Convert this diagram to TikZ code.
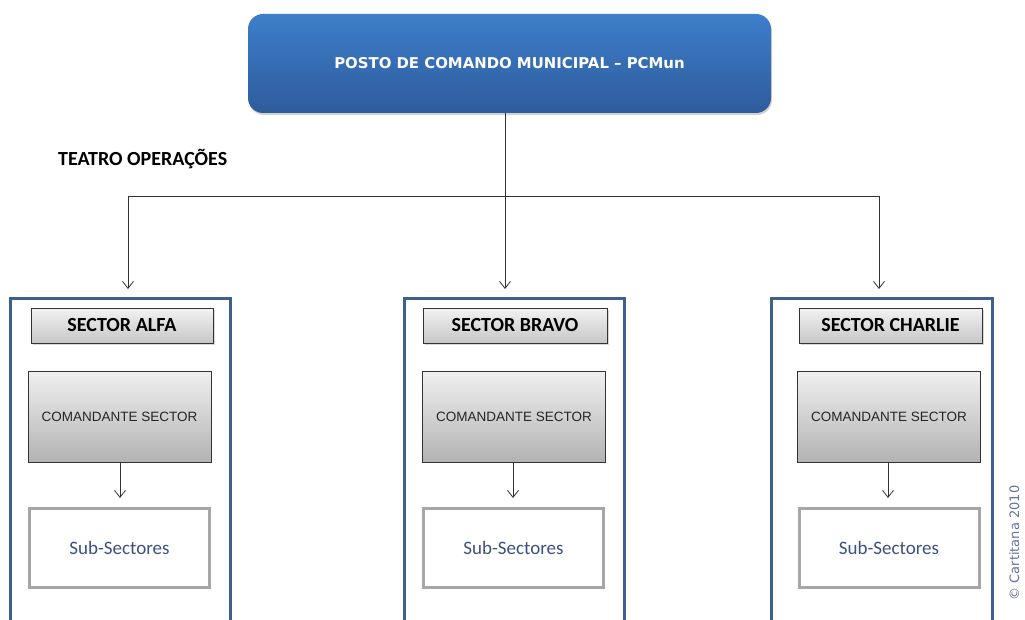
\documentclass[tikz,border=0pt]{standalone}
\usepackage{fontspec}
\setmainfont{Carlito}
\newfontfamily\verd{DejaVu Sans}
\newfontfamily\arialf{Liberation Sans}
\usetikzlibrary{arrows.meta,shadows,calc}
\definecolor{topA}{RGB}{61,126,203}
\definecolor{topB}{RGB}{46,92,156}
\definecolor{conblue}{RGB}{63,96,140}
\definecolor{subgray}{RGB}{166,166,166}
\definecolor{subtext}{RGB}{60,80,130}
\definecolor{linegray}{RGB}{50,50,50}
\tikzset{
  arr/.style={draw=linegray, line width=0.8pt, -{Straight Barb[length=7pt,width=11pt]}},
  pcbox/.style={rounded corners=15pt, top color=topA, bottom color=topB, draw=none,
    minimum width=523pt, minimum height=99pt, inner sep=0pt,
    drop shadow={shadow xshift=1pt, shadow yshift=-2pt, opacity=0.35},
    font=\verd\bfseries\fontsize{14.9}{17}\selectfont, text=white},
  container/.style={draw=conblue, line width=3pt, minimum height=360pt, anchor=north, inner sep=0pt},
  titlebox/.style={draw=black!80, line width=0.8pt, top color=black!5, bottom color=black!22,
    minimum height=35pt, inner sep=0pt,
    drop shadow={shadow xshift=1.5pt, shadow yshift=-2pt, opacity=0.3},
    font=\bfseries\fontsize{20}{22}\selectfont},
  cmdbox/.style={draw=black!80, line width=0.8pt, top color=black!6, bottom color=black!30,
    minimum width=183pt, minimum height=91pt, inner sep=0pt,
    font=\arialf\fontsize{13.5}{15}\selectfont, text=black!85},
  subbox/.style={draw=subgray, line width=3pt, fill=white,
    minimum width=180pt, minimum height=79pt, inner sep=0pt,
    font=\fontsize{19}{21}\selectfont, text=subtext},
}
\begin{document}
\begin{tikzpicture}[x=1pt,y=-1pt]
\useasboundingbox (0,0) rectangle (1025,620);
\clip (0,0) rectangle (1025,620);
\fill[white] (0,0) rectangle (1025,620);

\node[pcbox] (pc) at (509.5,63.5) {POSTO DE COMANDO MUNICIPAL – PCMun};
\node[font=\bfseries\fontsize{20}{22}\selectfont, anchor=west, inner sep=0pt] (teatro) at (58,159) {TEATRO OPERAÇÕES};

\coordinate (hub) at (505,196);
\coordinate (a1) at (128,289);
\coordinate (a2) at (505,289);
\coordinate (a3) at (879,289);
\draw[arr] (pc.south -| hub) -- (a2);
\draw[arr] (hub) -| (a1);
\draw[arr] (hub) -| (a3);

% containers
\node[container, minimum width=220pt] (conA) at (120,297) {};
\node[container, minimum width=220pt] (conB) at (514,297) {};
\node[container, minimum width=221pt] (conC) at (881.5,297) {};

% titles
\node[titlebox, minimum width=182pt] (tA) at (122,325.5) {SECTOR ALFA};
\node[titlebox, minimum width=184pt] (tB) at (515,325.5) {SECTOR BRAVO};
\node[titlebox, minimum width=183pt] (tC) at (890.5,325.5) {SECTOR CHARLIE};

% commanders
\node[cmdbox] (cA) at (119.5,416.5) {COMANDANTE SECTOR};
\node[cmdbox] (cB) at (514,416.5) {COMANDANTE SECTOR};
\node[cmdbox] (cC) at (889,416.5) {COMANDANTE SECTOR};

% sub-sectors
\node[subbox] (sA) at (119.5,548) {Sub-Sectores};
\node[subbox] (sB) at (513.5,548) {Sub-Sectores};
\node[subbox] (sC) at (889,548) {Sub-Sectores};

\draw[arr, shorten >=9pt] (cA.south -| 120,0) -- (sA.north -| 120,0);
\draw[arr, shorten >=9pt] (cB.south -| 513,0) -- (sB.north -| 513,0);
\draw[arr, shorten >=9pt] (cC.south -| 888,0) -- (sC.north -| 888,0);

\node[rotate=90, font=\verd\fontsize{13}{15}\selectfont, text=subtext!80, inner sep=0pt, anchor=north] (copy) at (1009,543) {© Cartitana 2010};
\end{tikzpicture}
\end{document}
